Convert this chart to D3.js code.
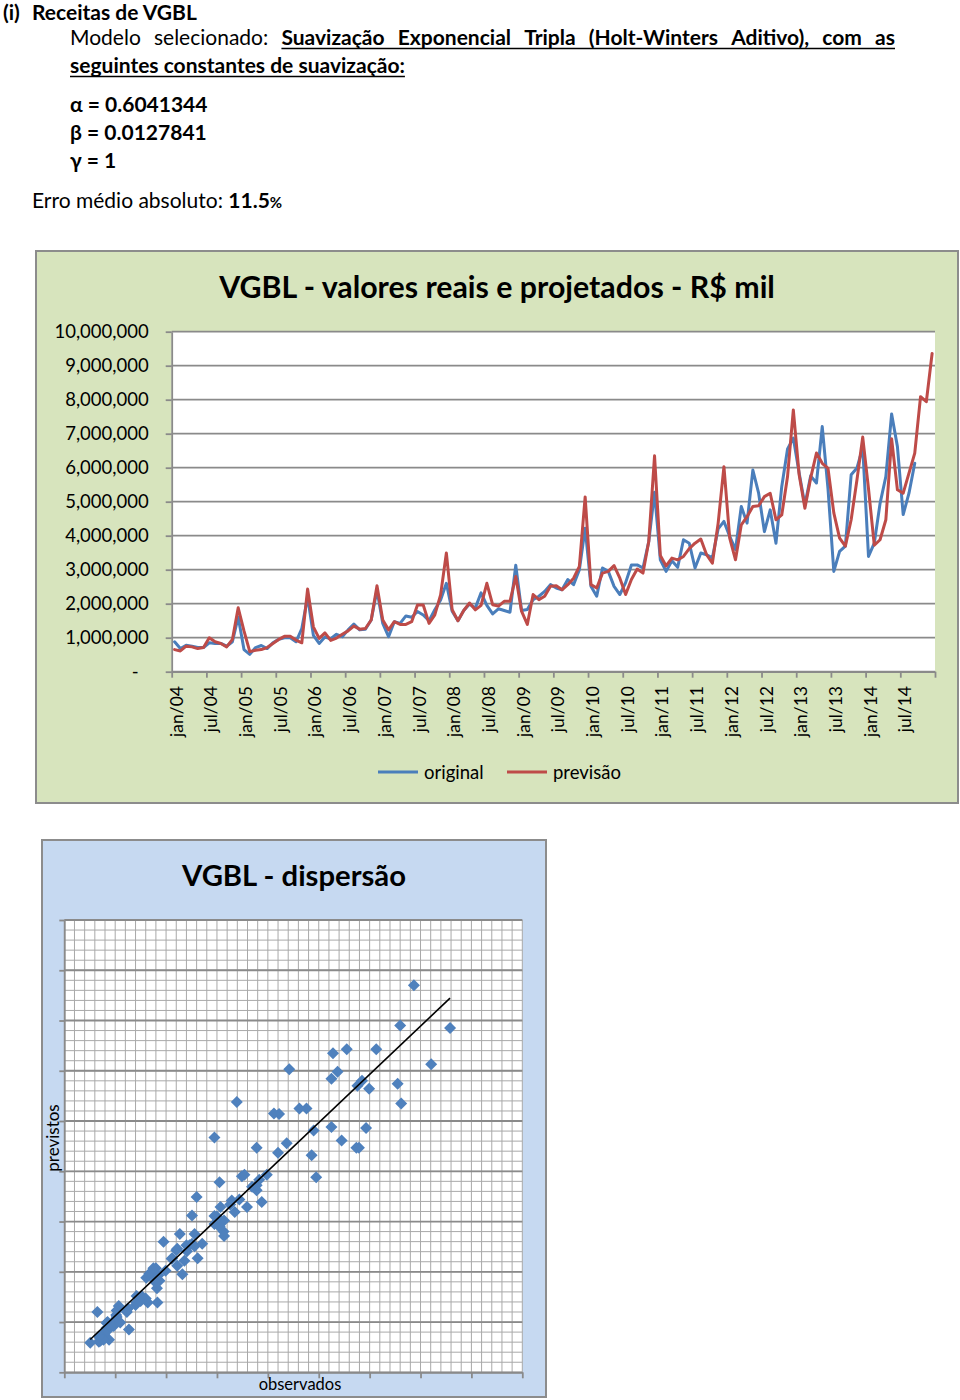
<!DOCTYPE html>
<html><head><meta charset="utf-8">
<script src="https://cdn.jsdelivr.net/npm/d3@7/dist/d3.min.js"></script>
<style>
body{margin:0;background:#fff;}
svg{display:block;font-family:Lato,"Open Sans",sans-serif;}
</style>
</head><body>
<svg id="c" width="960" height="1400"></svg>
<script>
// ---------------- DATA ----------------
const years = ["04","05","06","07","08","09","10","11","12","13","14"];
const monthNames = ["jan","fev","mar","abr","mai","jun","jul","ago","set","out","nov","dez"];
const xTickLabels = ["jan/04","jul/04","jan/05","jul/05","jan/06","jul/06","jan/07","jul/07","jan/08","jul/08","jan/09","jul/09","jan/10","jul/10","jan/11","jul/11","jan/12","jul/12","jan/13","jul/13","jan/14","jul/14"];
const yTickValues = [0,1000000,2000000,3000000,4000000,5000000,6000000,7000000,8000000,9000000,10000000];
const yTickLabels = ["-","1,000,000","2,000,000","3,000,000","4,000,000","5,000,000","6,000,000","7,000,000","8,000,000","9,000,000","10,000,000"];
const scatterTickValues = [0,1000000,2000000,3000000,4000000,5000000,6000000,7000000,8000000,9000000];

// original (jan/04 - set/14)
const original = [
 880000,680000,780000,750000,710000,710000,850000,830000,830000,750000,880000,1610000,
 650000,510000,710000,770000,680000,850000,950000,1000000,1000000,880000,1270000,2200000,
 1070000,830000,1020000,970000,1100000,1030000,1230000,1400000,1230000,1250000,1520000,2400000,
 1420000,1030000,1470000,1420000,1640000,1600000,1770000,1670000,1500000,1820000,2110000,2600000,
 1780000,1500000,1800000,1990000,1870000,2320000,1950000,1700000,1850000,1800000,1750000,3130000,
 1800000,1830000,2120000,2220000,2360000,2560000,2460000,2410000,2710000,2560000,3000000,4220000,
 2510000,2220000,3050000,2950000,2510000,2270000,2620000,3140000,3140000,3050000,3830000,5280000,
 3290000,2950000,3260000,3070000,3880000,3780000,3050000,3490000,3440000,3350000,4200000,4420000,
 3980000,3590000,4860000,4370000,5930000,5250000,4120000,4760000,3780000,5450000,6550000,6870000,
 5850000,4900000,5760000,5550000,7210000,5370000,2950000,3540000,3690000,5790000,5990000,6600000,
 3390000,3780000,4950000,5740000,7580000,6620000,4620000,5250000,6130000
];
// previsão (jan/04 - dez/14)
const previsao = [
 650000,610000,750000,730000,680000,710000,1000000,880000,830000,730000,950000,1880000,
 1200000,590000,630000,650000,710000,830000,950000,1040000,1040000,930000,850000,2430000,
 1320000,980000,1140000,920000,990000,1100000,1200000,1340000,1250000,1270000,1520000,2530000,
 1520000,1230000,1470000,1390000,1390000,1470000,1960000,1960000,1420000,1670000,2260000,3490000,
 1820000,1500000,1800000,2020000,1820000,1950000,2600000,1970000,1930000,2070000,2070000,2800000,
 1780000,1390000,2270000,2120000,2220000,2510000,2530000,2410000,2560000,2750000,3100000,5140000,
 2560000,2460000,2900000,2950000,3120000,2750000,2270000,2710000,3020000,2900000,3830000,6350000,
 3420000,3110000,3340000,3290000,3390000,3620000,3780000,3900000,3440000,3190000,4370000,6030000,
 3930000,3290000,4320000,4560000,4860000,4880000,5150000,5250000,4470000,4610000,5740000,7700000,
 5800000,4810000,5700000,6430000,6130000,5980000,4670000,3930000,3690000,4470000,5640000,6900000,
 5380000,3720000,3880000,4470000,6850000,5350000,5250000,5840000,6430000,8090000,7940000,9360000
];

// ---------------- HELPERS ----------------
const svg = d3.select("#c");
const categories = [];
years.forEach(y => monthNames.forEach(m => categories.push(m + "/" + y)));
const GRID = "#8a8a8a";
const BLUE = "#4a7ebb", RED = "#be4b48";

function fitText(sel, w){
  const len = sel.node().getComputedTextLength();
  const fs = parseFloat(sel.attr("font-size"));
  sel.attr("font-size", (fs * w / len).toFixed(2));
}

// ---------------- HEADER ----------------
const HS = 21;
svg.append("text").attr("x",3).attr("y",20).attr("font-size",HS).attr("font-weight",700).text("(i)");
svg.append("text").attr("x",32).attr("y",20).attr("font-size",HS).attr("font-weight",700).text("Receitas de VGBL");

const line1 = [["Modelo",0],["selecionado:",0],["Suavização",1],["Exponencial",1],["Tripla",1],["(Holt-Winters",1],["Aditivo),",1],["com",1],["as",1]];
const l1 = line1.map(([t,b]) => svg.append("text").attr("y",45).attr("font-size",HS).attr("font-weight",b?700:400).text(t));
const widths = l1.map(s => s.node().getComputedTextLength());
const gap = (895 - 70 - d3.sum(widths)) / (line1.length - 1);
let cx = 70, boldStart = null;
l1.forEach((s,i) => { s.attr("x",cx); if(line1[i][1] && boldStart===null) boldStart = cx; cx += widths[i] + gap; });
svg.append("line").attr("x1",boldStart).attr("x2",895).attr("y1",48.5).attr("y2",48.5).attr("stroke","#000").attr("stroke-width",1.6);

const l2 = svg.append("text").attr("x",70).attr("y",73).attr("font-size",HS).attr("font-weight",700).text("seguintes constantes de suavização:");
svg.append("line").attr("x1",70).attr("x2",70 + l2.node().getComputedTextLength()).attr("y1",76.5).attr("y2",76.5).attr("stroke","#000").attr("stroke-width",1.6);

["α = 0.6041344","β = 0.0127841","γ = 1"].forEach((t,i) =>
  svg.append("text").attr("x",70).attr("y",112 + i*28).attr("font-size",HS).attr("font-weight",700).text(t));

const erro = svg.append("text").attr("x",32).attr("y",208).attr("font-size",HS);
erro.append("tspan").text("Erro médio absoluto: ");
erro.append("tspan").attr("font-weight",700).text("11.5");
erro.append("tspan").attr("font-weight",700).attr("font-size",15).text("%");

// ---------------- LINE CHART ----------------
svg.append("rect").attr("x",36).attr("y",251).attr("width",922).attr("height",552)
  .attr("fill","#d7e4bd").attr("stroke","#8c8c8c").attr("stroke-width",2);

const t1 = svg.append("text").attr("x",497).attr("y",298).attr("text-anchor","middle")
  .attr("font-size",28).attr("font-weight",700).text("VGBL - valores reais e projetados - R$ mil");
fitText(t1, 556);

const PL = 171.7, PR = 935, PT = 331.7, PB = 671.7;
svg.append("rect").attr("x",PL).attr("y",PT).attr("width",PR-PL).attr("height",PB-PT).attr("fill","#fff");

const x = d3.scaleBand().domain(categories).range([PL,PR]).padding(0);
const xb = d3.scaleLinear().domain([0, categories.length]).range([PL,PR]);
const y = d3.scaleLinear().domain([0,10000000]).range([PB,PT]);

svg.append("g").selectAll("line").data(yTickValues).join("line")
  .attr("x1",PL).attr("x2",PR).attr("y1",d=>y(d)).attr("y2",d=>y(d))
  .attr("stroke",GRID).attr("stroke-width",1.8);

const yAxis = svg.append("g").attr("transform",`translate(${PL},0)`)
  .call(d3.axisLeft(y).tickValues(yTickValues).tickSize(6).tickSizeOuter(0).tickPadding(17)
    .tickFormat((d,i)=>yTickLabels[i]));
yAxis.selectAll("path,line").attr("stroke",GRID).attr("stroke-width",1.8);
yAxis.selectAll("text").attr("font-size",18.5).attr("fill","#000").attr("font-family",'Lato,"Open Sans",sans-serif')
  .attr("dx",(d)=> d===0 ? -10 : 0);

const boundaries = d3.range(0, categories.length + 1, 6);
const xAxis = svg.append("g").attr("transform",`translate(0,${PB})`)
  .call(d3.axisBottom(xb).tickValues(boundaries).tickSize(6).tickSizeOuter(0).tickFormat(""));
xAxis.selectAll("path,line").attr("stroke",GRID).attr("stroke-width",1.8);

svg.append("g").selectAll("text").data(xTickLabels).join("text")
  .attr("transform",(d)=>`translate(${x(d)+x.bandwidth()/2+2},686) rotate(-90)`)
  .attr("text-anchor","end").attr("dy","0.35em").attr("font-size",17.5).attr("fill","#000").text(d=>d);

const line = d3.line().x((d,i)=>x(categories[i]) + x.bandwidth()/2).y(d=>y(d));
svg.append("path").datum(original).attr("d",line).attr("fill","none").attr("stroke",BLUE)
  .attr("stroke-width",3).attr("stroke-linejoin","round").attr("stroke-linecap","round");
svg.append("path").datum(previsao).attr("d",line).attr("fill","none").attr("stroke",RED)
  .attr("stroke-width",3).attr("stroke-linejoin","round").attr("stroke-linecap","round");

// legend
const legend = [["original",BLUE,378],["previsão",RED,507]];
legend.forEach(([t,c,lx]) => {
  svg.append("line").attr("x1",lx).attr("x2",lx+40).attr("y1",772).attr("y2",772).attr("stroke",c).attr("stroke-width",3);
  svg.append("text").attr("x",lx+46).attr("y",779).attr("font-size",18.5).text(t);
});

// ---------------- SCATTER ----------------
svg.append("rect").attr("x",42).attr("y",840).attr("width",504).attr("height",557)
  .attr("fill","#c6d9f1").attr("stroke","#8c8c8c").attr("stroke-width",2);

const t2 = svg.append("text").attr("x",294).attr("y",886).attr("text-anchor","middle")
  .attr("font-size",28).attr("font-weight",700).text("VGBL - dispersão");
fitText(t2, 224);

const SL = 64.3, SR = 522.3, ST = 920, SB = 1372.3;
svg.append("rect").attr("x",SL).attr("y",ST).attr("width",SR-SL).attr("height",SB-ST).attr("fill","#fff");
const sx = d3.scaleLinear().domain([0,9000000]).range([SL,SR]);
const sy = d3.scaleLinear().domain([0,9000000]).range([SB,ST]);

const minor = d3.range(0, 9000001, 200000);
svg.append("g").selectAll("line").data(minor).join("line")
  .attr("x1",d=>sx(d)).attr("x2",d=>sx(d)).attr("y1",ST).attr("y2",SB)
  .attr("stroke","#a9a9a9").attr("stroke-width",1);
svg.append("g").selectAll("line").data(minor).join("line")
  .attr("x1",SL).attr("x2",SR).attr("y1",d=>sy(d)).attr("y2",d=>sy(d))
  .attr("stroke","#a9a9a9").attr("stroke-width",1);
svg.append("g").selectAll("line").data(scatterTickValues).join("line")
  .attr("x1",SL).attr("x2",SR).attr("y1",d=>sy(d)).attr("y2",d=>sy(d))
  .attr("stroke",GRID).attr("stroke-width",1.8);

const sAxL = svg.append("g").attr("transform",`translate(${SL},0)`)
  .call(d3.axisLeft(sy).tickValues(scatterTickValues).tickSize(5).tickSizeOuter(0).tickFormat(""));
sAxL.selectAll("path,line").attr("stroke",GRID).attr("stroke-width",1.8);
const sAxB = svg.append("g").attr("transform",`translate(0,${SB})`)
  .call(d3.axisBottom(sx).tickValues(scatterTickValues).tickSize(6).tickSizeOuter(0).tickFormat(""));
sAxB.selectAll("path,line").attr("stroke",GRID).attr("stroke-width",1.8);

const pairs = d3.zip(original, previsao);
const diamond = d3.symbol(d3.symbolSquare, 72);
svg.append("g").selectAll("path").data(pairs).join("path")
  .attr("d",diamond).attr("transform",d=>`translate(${sx(d[0])},${sy(d[1])}) rotate(45)`)
  .attr("fill","#4f81bd");

// linear trendline (least squares)
const mx = d3.mean(pairs,d=>d[0]), my = d3.mean(pairs,d=>d[1]);
const b = d3.sum(pairs,d=>(d[0]-mx)*(d[1]-my)) / d3.sum(pairs,d=>(d[0]-mx)*(d[0]-mx));
const a = my - b*mx;
const [xmin,xmax] = d3.extent(pairs,d=>d[0]);
svg.append("line").attr("x1",sx(xmin)).attr("y1",sy(a+b*xmin)).attr("x2",sx(xmax)).attr("y2",sy(a+b*xmax))
  .attr("stroke","#000").attr("stroke-width",1.6);

svg.append("text").attr("transform","translate(59,1138) rotate(-90)").attr("text-anchor","middle")
  .attr("font-size",17).text("previstos");
svg.append("text").attr("x",300).attr("y",1390).attr("text-anchor","middle").attr("font-size",16.5).text("observados");
</script>
</body></html>
